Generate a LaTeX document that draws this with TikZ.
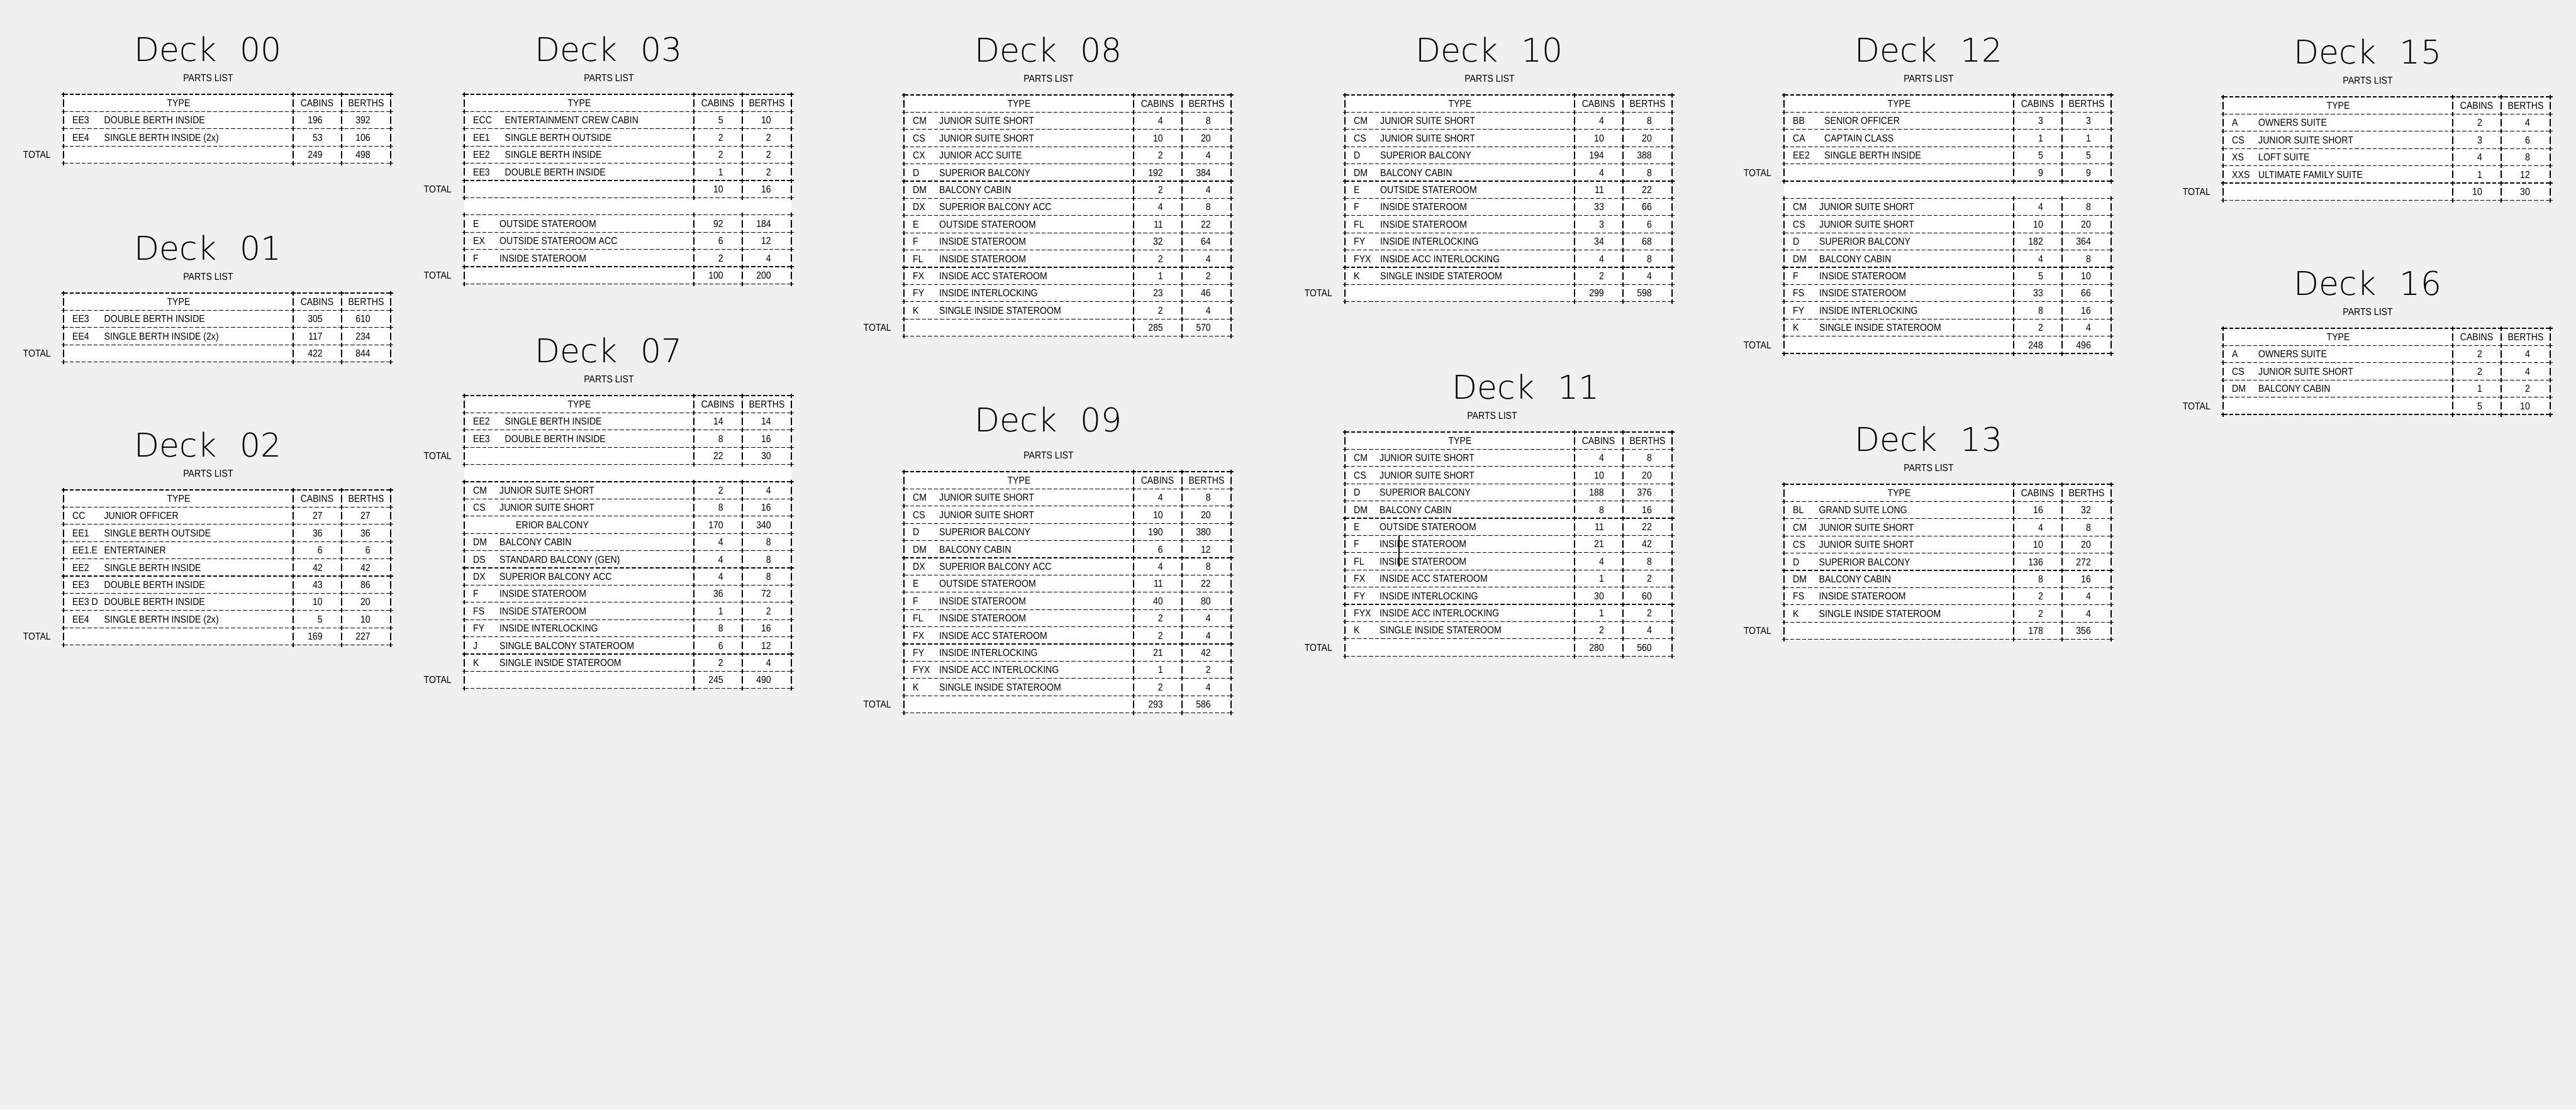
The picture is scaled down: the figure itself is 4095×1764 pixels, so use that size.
\documentclass[tikz,border=0pt]{standalone}
\usepackage{fontspec}
\usepackage{tikz}

\newfontfamily\cadfont{Liberation Sans}[FakeStretch=0.88]
\IfFontExistsTF{DejaVu Sans ExtraLight}
  {\newfontfamily\deckfont{DejaVu Sans ExtraLight}}
  {\IfFontExistsTF{Lato Hairline}
    {\newfontfamily\deckfont{Lato Hairline}}
    {\newcommand{\deckfont}{\sffamily}}}
\definecolor{sheet}{RGB}{240,240,240}

\newcommand{\rowh}{27.4}
\newcommand{\descx}{56}
\newcommand{\pl}{d00}

\newcommand{\plframe}[1]{%
  \fill[white] (0,0) rectangle (520,{#1*\rowh});
  \foreach \k in {0,...,#1}{
    \draw[pl rule] (0,{\k*\rowh}) -- (520,{\k*\rowh});
    \foreach \bx in {0,365,442,520}
      \draw[pl cross] (\bx-3.5,{\k*\rowh}) -- (\bx+3.5,{\k*\rowh})
                      (\bx,{\k*\rowh-3.5}) -- (\bx,{\k*\rowh+3.5});
  }
}
\newcommand{\plbars}[1]{%
  \foreach \bx in {0,365,442,520}
    \draw[pl bar] (\bx,{(#1+0.5)*\rowh-6}) -- (\bx,{(#1+0.5)*\rowh+6});
}
\newcommand{\plhead}[1]{%
  \plbars{#1}
  \node (\pl-type) [pl txt, anchor=base] at (183,{(#1+0.5)*\rowh+5.7}) {TYPE};
  \node (\pl-cabins) [pl txt, anchor=base] at (403,{(#1+0.5)*\rowh+5.7}) {CABINS};
  \node (\pl-berths) [pl txt, anchor=base] at (481,{(#1+0.5)*\rowh+5.7}) {BERTHS};
}
\newcommand{\plrow}[5]{%
  \plbars{#1}
  \node (\pl-r#1-code) [pl txt, anchor=base west] at (14,{(#1+0.5)*\rowh+5.7}) {#2};
  \node (\pl-r#1-type) [pl txt, anchor=base west] at (\descx,{(#1+0.5)*\rowh+5.7}) {#3};
  \node (\pl-r#1-cab) [pl txt, anchor=base east] at (412,{(#1+0.5)*\rowh+5.7}) {#4};
  \node (\pl-r#1-ber) [pl txt, anchor=base east] at (488,{(#1+0.5)*\rowh+5.7}) {#5};
}
\newcommand{\pltotal}[3]{%
  \plbars{#1}
  \node (\pl-r#1-total) [pl txt, anchor=base east] at (-20,{(#1+0.5)*\rowh+5.7}) {TOTAL};
  \node (\pl-r#1-cab) [pl txt, anchor=base east] at (412,{(#1+0.5)*\rowh+5.7}) {#2};
  \node (\pl-r#1-ber) [pl txt, anchor=base east] at (488,{(#1+0.5)*\rowh+5.7}) {#3};
}

\begin{document}
\begin{tikzpicture}[
		x=1pt, y=-1pt,
		deck title/.style={font=\deckfont\fontsize{52}{58}\selectfont, inner sep=0pt},
		parts list/.style={font=\cadfont\fontsize{16}{18}\selectfont, inner sep=0pt},
		pl txt/.style={font=\cadfont\fontsize{16}{18}\selectfont, inner sep=0pt},
		pl rule/.style={line width=1.2pt, dash pattern=on 6.5pt off 3pt},
		pl cross/.style={line width=1.2pt},
		pl bar/.style={line width=1.6pt}
	]
  \useasboundingbox (0,0) rectangle (4095,1764);
  \fill[sheet] (0,0) rectangle (4095,1764);

  \begin{scope}[shift={(101,150)}]
    \renewcommand{\pl}{d00}\renewcommand{\descx}{64.5}
    \node (d00-title) [deck title] at (230,-72) {Deck\hspace{0.4em} 00};
    \node (d00-parts) [parts list] at (230,-26) {PARTS LIST};
    \plframe{4}
    \plhead{0}
    \plrow{1}{EE3}{DOUBLE BERTH INSIDE}{196}{392}
    \plrow{2}{EE4}{SINGLE BERTH INSIDE (2x)}{53}{106}
    \pltotal{3}{249}{498}
  \end{scope}

  \begin{scope}[shift={(101,466)}]
    \renewcommand{\pl}{d01}\renewcommand{\descx}{64.5}
    \node (d01-title) [deck title] at (230,-72) {Deck\hspace{0.4em} 01};
    \node (d01-parts) [parts list] at (230,-26) {PARTS LIST};
    \plframe{4}
    \plhead{0}
    \plrow{1}{EE3}{DOUBLE BERTH INSIDE}{305}{610}
    \plrow{2}{EE4}{SINGLE BERTH INSIDE (2x)}{117}{234}
    \pltotal{3}{422}{844}
  \end{scope}

  \begin{scope}[shift={(101,779)}]
    \renewcommand{\pl}{d02}\renewcommand{\descx}{64.5}
    \node (d02-title) [deck title] at (230,-72) {Deck\hspace{0.4em} 02};
    \node (d02-parts) [parts list] at (230,-26) {PARTS LIST};
    \plframe{9}
    \plhead{0}
    \plrow{1}{CC}{JUNIOR OFFICER}{27}{27}
    \plrow{2}{EE1}{SINGLE BERTH OUTSIDE}{36}{36}
    \plrow{3}{EE1.E}{ENTERTAINER}{6}{6}
    \plrow{4}{EE2}{SINGLE BERTH INSIDE}{42}{42}
    \plrow{5}{EE3}{DOUBLE BERTH INSIDE}{43}{86}
    \plrow{6}{EE3 D}{DOUBLE BERTH INSIDE}{10}{20}
    \plrow{7}{EE4}{SINGLE BERTH INSIDE (2x)}{5}{10}
    \pltotal{8}{169}{227}
  \end{scope}

  \begin{scope}[shift={(738,150)}]
    \renewcommand{\pl}{d03}\renewcommand{\descx}{64.5}
    \node (d03-title) [deck title] at (230,-72) {Deck\hspace{0.4em} 03};
    \node (d03-parts) [parts list] at (230,-26) {PARTS LIST};
    \plframe{11}
    \plhead{0}
    \plrow{1}{ECC}{ENTERTAINMENT CREW CABIN}{5}{10}
    \plrow{2}{EE1}{SINGLE BERTH OUTSIDE}{2}{2}
    \plrow{3}{EE2}{SINGLE BERTH INSIDE}{2}{2}
    \plrow{4}{EE3}{DOUBLE BERTH INSIDE}{1}{2}
    \pltotal{5}{10}{16}
    \renewcommand{\descx}{56}
    \plrow{7}{E}{OUTSIDE STATEROOM}{92}{184}
    \plrow{8}{EX}{OUTSIDE STATEROOM ACC}{6}{12}
    \plrow{9}{F}{INSIDE STATEROOM}{2}{4}
    \pltotal{10}{100}{200}
  \end{scope}

  \begin{scope}[shift={(738,629)}]
    \renewcommand{\pl}{d07}\renewcommand{\descx}{64.5}
    \node (d07-title) [deck title] at (230,-72) {Deck\hspace{0.4em} 07};
    \node (d07-parts) [parts list] at (230,-26) {PARTS LIST};
    \plframe{17}
    \plhead{0}
    \plrow{1}{EE2}{SINGLE BERTH INSIDE}{14}{14}
    \plrow{2}{EE3}{DOUBLE BERTH INSIDE}{8}{16}
    \pltotal{3}{22}{30}
    \renewcommand{\descx}{56}
    \plrow{5}{CM}{JUNIOR SUITE SHORT}{2}{4}
    \plrow{6}{CS}{JUNIOR SUITE SHORT}{8}{16}
    \renewcommand{\descx}{82}
    \plrow{7}{}{ERIOR BALCONY}{170}{340}
    \renewcommand{\descx}{56}
    \plrow{8}{DM}{BALCONY CABIN}{4}{8}
    \plrow{9}{DS}{STANDARD BALCONY (GEN)}{4}{8}
    \plrow{10}{DX}{SUPERIOR BALCONY ACC}{4}{8}
    \plrow{11}{F}{INSIDE STATEROOM}{36}{72}
    \plrow{12}{FS}{INSIDE STATEROOM}{1}{2}
    \plrow{13}{FY}{INSIDE INTERLOCKING}{8}{16}
    \plrow{14}{J}{SINGLE BALCONY STATEROOM}{6}{12}
    \plrow{15}{K}{SINGLE INSIDE STATEROOM}{2}{4}
    \pltotal{16}{245}{490}
  \end{scope}

  \begin{scope}[shift={(1437,151)}]
    \renewcommand{\pl}{d08}\renewcommand{\descx}{56}
    \node (d08-title) [deck title] at (230,-72) {Deck\hspace{0.4em} 08};
    \node (d08-parts) [parts list] at (230,-26) {PARTS LIST};
    \plframe{14}
    \plhead{0}
    \plrow{1}{CM}{JUNIOR SUITE SHORT}{4}{8}
    \plrow{2}{CS}{JUNIOR SUITE SHORT}{10}{20}
    \plrow{3}{CX}{JUNIOR ACC SUITE}{2}{4}
    \plrow{4}{D}{SUPERIOR BALCONY}{192}{384}
    \plrow{5}{DM}{BALCONY CABIN}{2}{4}
    \plrow{6}{DX}{SUPERIOR BALCONY ACC}{4}{8}
    \plrow{7}{E}{OUTSIDE STATEROOM}{11}{22}
    \plrow{8}{F}{INSIDE STATEROOM}{32}{64}
    \plrow{9}{FL}{INSIDE STATEROOM}{2}{4}
    \plrow{10}{FX}{INSIDE ACC STATEROOM}{1}{2}
    \plrow{11}{FY}{INSIDE INTERLOCKING}{23}{46}
    \plrow{12}{K}{SINGLE INSIDE STATEROOM}{2}{4}
    \pltotal{13}{285}{570}
  \end{scope}

  \begin{scope}[shift={(1437,750)}]
    \renewcommand{\pl}{d09}\renewcommand{\descx}{56}
    \node (d09-title) [deck title] at (230,-83) {Deck\hspace{0.4em} 09};
    \node (d09-parts) [parts list] at (230,-26) {PARTS LIST};
    \plframe{14}
    \plhead{0}
    \plrow{1}{CM}{JUNIOR SUITE SHORT}{4}{8}
    \plrow{2}{CS}{JUNIOR SUITE SHORT}{10}{20}
    \plrow{3}{D}{SUPERIOR BALCONY}{190}{380}
    \plrow{4}{DM}{BALCONY CABIN}{6}{12}
    \plrow{5}{DX}{SUPERIOR BALCONY ACC}{4}{8}
    \plrow{6}{E}{OUTSIDE STATEROOM}{11}{22}
    \plrow{7}{F}{INSIDE STATEROOM}{40}{80}
    \plrow{8}{FL}{INSIDE STATEROOM}{2}{4}
    \plrow{9}{FX}{INSIDE ACC STATEROOM}{2}{4}
    \plrow{10}{FY}{INSIDE INTERLOCKING}{21}{42}
    \plrow{11}{FYX}{INSIDE ACC INTERLOCKING}{1}{2}
    \plrow{12}{K}{SINGLE INSIDE STATEROOM}{2}{4}
    \pltotal{13}{293}{586}
  \end{scope}

  \begin{scope}[shift={(2138,151)}]
    \renewcommand{\pl}{d10}\renewcommand{\descx}{56}
    \node (d10-title) [deck title] at (230,-72) {Deck\hspace{0.4em} 10};
    \node (d10-parts) [parts list] at (230,-26) {PARTS LIST};
    \plframe{12}
    \plhead{0}
    \plrow{1}{CM}{JUNIOR SUITE SHORT}{4}{8}
    \plrow{2}{CS}{JUNIOR SUITE SHORT}{10}{20}
    \plrow{3}{D}{SUPERIOR BALCONY}{194}{388}
    \plrow{4}{DM}{BALCONY CABIN}{4}{8}
    \plrow{5}{E}{OUTSIDE STATEROOM}{11}{22}
    \plrow{6}{F}{INSIDE STATEROOM}{33}{66}
    \plrow{7}{FL}{INSIDE STATEROOM}{3}{6}
    \plrow{8}{FY}{INSIDE INTERLOCKING}{34}{68}
    \plrow{9}{FYX}{INSIDE ACC INTERLOCKING}{4}{8}
    \plrow{10}{K}{SINGLE INSIDE STATEROOM}{2}{4}
    \pltotal{11}{299}{598}
  \end{scope}

  \begin{scope}[shift={(2138,687)}]
    \renewcommand{\pl}{d11}\renewcommand{\descx}{55}
    \node (d11-title) [deck title] at (288,-72) {Deck\hspace{0.4em} 11};
    \node (d11-parts) [parts list] at (234,-26) {PARTS LIST};
    \plframe{13}
    \plhead{0}
    \plrow{1}{CM}{JUNIOR SUITE SHORT}{4}{8}
    \plrow{2}{CS}{JUNIOR SUITE SHORT}{10}{20}
    \plrow{3}{D}{SUPERIOR BALCONY}{188}{376}
    \plrow{4}{DM}{BALCONY CABIN}{8}{16}
    \plrow{5}{E}{OUTSIDE STATEROOM}{11}{22}
    \plrow{6}{F}{INSIDE STATEROOM}{21}{42}
    \plrow{7}{FL}{INSIDE STATEROOM}{4}{8}
    \plrow{8}{FX}{INSIDE ACC STATEROOM}{1}{2}
    \plrow{9}{FY}{INSIDE INTERLOCKING}{30}{60}
    \plrow{10}{FYX}{INSIDE ACC INTERLOCKING}{1}{2}
    \plrow{11}{K}{SINGLE INSIDE STATEROOM}{2}{4}
    \pltotal{12}{280}{560}
    \draw[pl bar] (86,{6*\rowh}) -- (86,{8*\rowh-5});
  \end{scope}

  \begin{scope}[shift={(2836,151)}]
    \renewcommand{\pl}{d12}\renewcommand{\descx}{64}
    \node (d12-title) [deck title] at (230,-72) {Deck\hspace{0.4em} 12};
    \node (d12-parts) [parts list] at (230,-26) {PARTS LIST};
    \plframe{15}
    \plhead{0}
    \plrow{1}{BB}{SENIOR OFFICER}{3}{3}
    \plrow{2}{CA}{CAPTAIN CLASS}{1}{1}
    \plrow{3}{EE2}{SINGLE BERTH INSIDE}{5}{5}
    \pltotal{4}{9}{9}
    \renewcommand{\descx}{56}
    \plrow{6}{CM}{JUNIOR SUITE SHORT}{4}{8}
    \plrow{7}{CS}{JUNIOR SUITE SHORT}{10}{20}
    \plrow{8}{D}{SUPERIOR BALCONY}{182}{364}
    \plrow{9}{DM}{BALCONY CABIN}{4}{8}
    \plrow{10}{F}{INSIDE STATEROOM}{5}{10}
    \plrow{11}{FS}{INSIDE STATEROOM}{33}{66}
    \plrow{12}{FY}{INSIDE INTERLOCKING}{8}{16}
    \plrow{13}{K}{SINGLE INSIDE STATEROOM}{2}{4}
    \pltotal{14}{248}{496}
  \end{scope}

  \begin{scope}[shift={(2836,770)}]
    \renewcommand{\pl}{d13}\renewcommand{\descx}{55.5}
    \node (d13-title) [deck title] at (230,-72) {Deck\hspace{0.4em} 13};
    \node (d13-parts) [parts list] at (230,-26) {PARTS LIST};
    \plframe{9}
    \plhead{0}
    \plrow{1}{BL}{GRAND SUITE LONG}{16}{32}
    \plrow{2}{CM}{JUNIOR SUITE SHORT}{4}{8}
    \plrow{3}{CS}{JUNIOR SUITE SHORT}{10}{20}
    \plrow{4}{D}{SUPERIOR BALCONY}{136}{272}
    \plrow{5}{DM}{BALCONY CABIN}{8}{16}
    \plrow{6}{FS}{INSIDE STATEROOM}{2}{4}
    \plrow{7}{K}{SINGLE INSIDE STATEROOM}{2}{4}
    \pltotal{8}{178}{356}
  \end{scope}

  \begin{scope}[shift={(3534,154)}]
    \renewcommand{\pl}{d15}\renewcommand{\descx}{56}
    \node (d15-title) [deck title] at (230,-72) {Deck\hspace{0.4em} 15};
    \node (d15-parts) [parts list] at (230,-26) {PARTS LIST};
    \plframe{6}
    \plhead{0}
    \plrow{1}{A}{OWNERS SUITE}{2}{4}
    \plrow{2}{CS}{JUNIOR SUITE SHORT}{3}{6}
    \plrow{3}{XS}{LOFT SUITE}{4}{8}
    \plrow{4}{XXS}{ULTIMATE FAMILY SUITE}{1}{12}
    \pltotal{5}{10}{30}
  \end{scope}

  \begin{scope}[shift={(3534,522)}]
    \renewcommand{\pl}{d16}\renewcommand{\descx}{56}
    \node (d16-title) [deck title] at (230,-72) {Deck\hspace{0.4em} 16};
    \node (d16-parts) [parts list] at (230,-26) {PARTS LIST};
    \plframe{5}
    \plhead{0}
    \plrow{1}{A}{OWNERS SUITE}{2}{4}
    \plrow{2}{CS}{JUNIOR SUITE SHORT}{2}{4}
    \plrow{3}{DM}{BALCONY CABIN}{1}{2}
    \pltotal{4}{5}{10}
  \end{scope}
\end{tikzpicture}
\end{document}
